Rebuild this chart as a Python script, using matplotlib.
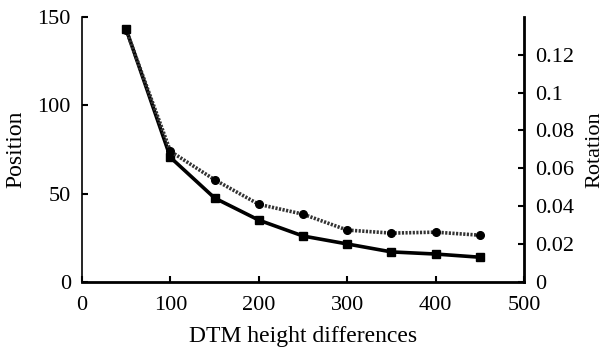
import matplotlib.pyplot as plt
from matplotlib.ticker import FuncFormatter

plt.rcParams['font.family'] = ['Liberation Serif', 'DejaVu Serif']

# data
dtm = [50, 100, 150, 200, 250, 300, 350, 400, 450]
position = [143, 70.5, 47.5, 35, 26, 21.5, 17, 15.8, 14]
rotation = [0.133, 0.069, 0.054, 0.041, 0.0358, 0.0274, 0.0258, 0.0263, 0.0247]

fig = plt.figure(figsize=(6.06, 3.52), dpi=100)
ax = fig.add_axes([0.1353, 0.199, 0.7294, 0.753])
ax2 = ax.twinx()

ax.plot(dtm, position, color='black', lw=2.6, marker='s', ms=5.5, zorder=3)
ax2.plot(dtm, rotation, color='#333333', lw=2.6, linestyle=(0, (0.6, 0.4)),
         marker='o', ms=5.5, mfc='black', mec='black')

ax.set_xlim(0, 500)
ax.set_ylim(0, 150)
ax2.set_ylim(0, 0.14)
ax.set_xticks([0, 100, 200, 300, 400, 500])
ax.set_yticks([0, 50, 100, 150])
ax2.set_yticks([0, 0.02, 0.04, 0.06, 0.08, 0.1, 0.12])
ax2.yaxis.set_major_formatter(FuncFormatter(lambda v, p: '%g' % round(v, 2)))

for a in (ax, ax2):
    a.spines['top'].set_visible(False)
    a.tick_params(direction='in', labelsize=16, width=1.5, length=4, pad=8)
ax.tick_params(axis='x', pad=10)
ax.spines['left'].set_linewidth(1.2)
ax.spines['bottom'].set_linewidth(2)
ax2.spines['right'].set_linewidth(2)
ax2.spines['left'].set_visible(False)
ax2.spines['bottom'].set_visible(False)

ax.set_xlabel('DTM height differences', fontsize=17, labelpad=8)
ax.set_ylabel('Position', fontsize=17, labelpad=8)
ax2.set_ylabel('Rotation', fontsize=16, labelpad=8)

fig.savefig('out.png', dpi=100)
